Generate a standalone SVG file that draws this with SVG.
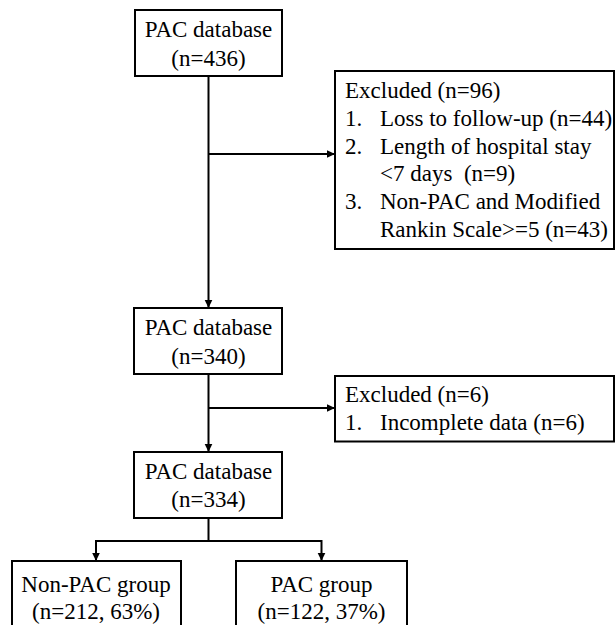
<svg xmlns="http://www.w3.org/2000/svg" width="615" height="625" viewBox="0 0 615 625">
<style>
.box{fill:#ffffff;stroke:#000000;stroke-width:2}
.ln{fill:none;stroke:#000000;stroke-width:2}
.t{font-family:'Liberation Serif','Tinos',serif;font-size:23px;fill:#000000}
.c{text-anchor:middle}
</style>
<defs>
<marker id="ah" markerUnits="userSpaceOnUse" markerWidth="10" markerHeight="10" viewBox="0 0 10 10" refX="9" refY="5" orient="auto">
<path d="M1,1.2 L9,5 L1,8.8 Z" fill="#000000"/>
</marker>
</defs>
<rect width="615" height="625" fill="#ffffff"/>
<g id="connectors">
<line class="ln" x1="208.5" y1="76" x2="208.5" y2="308" marker-end="url(#ah)"/>
<line class="ln" x1="208.5" y1="154" x2="335" y2="154" marker-end="url(#ah)"/>
<line class="ln" x1="208.5" y1="374" x2="208.5" y2="452" marker-end="url(#ah)"/>
<line class="ln" x1="208.5" y1="408" x2="335" y2="408" marker-end="url(#ah)"/>
<line class="ln" x1="208.5" y1="518" x2="208.5" y2="541"/>
<polyline class="ln" points="96,541 321.5,541"/>
<line class="ln" x1="96" y1="540" x2="96" y2="561" marker-end="url(#ah)"/>
<line class="ln" x1="321.5" y1="540" x2="321.5" y2="561" marker-end="url(#ah)"/>
</g>
<g id="n1" class="t" font-family="Liberation Serif, serif">
<rect class="box" x="135" y="10" width="147" height="66"/>
<text class="c" x="208.5" y="37">PAC database</text>
<text class="c" x="208.5" y="66">(n=436)</text>
</g>
<g id="ex1" class="t" font-family="Liberation Serif, serif">
<rect class="box" x="335" y="71" width="279" height="178"/>
<text x="345" y="97.5">Excluded (n=96)</text>
<text x="345" y="125.5">1.</text><text x="380" y="125.5">Loss to follow-up (n=44)</text>
<text x="345" y="153.5">2.</text><text x="380" y="153.5">Length of hospital stay</text>
<text x="380" y="181" xml:space="preserve">&lt;7 days  (n=9)</text>
<text x="345" y="208.5">3.</text><text x="380" y="208.5">Non-PAC and Modified</text>
<text x="380" y="236.5">Rankin Scale&gt;=5 (n=43)</text>
</g>
<g id="n2" class="t" font-family="Liberation Serif, serif">
<rect class="box" x="134" y="308" width="148" height="66"/>
<text class="c" x="208.5" y="335">PAC database</text>
<text class="c" x="208.5" y="363.5">(n=340)</text>
</g>
<g id="ex2" class="t" font-family="Liberation Serif, serif">
<rect class="box" x="335" y="376" width="279" height="65.5"/>
<text x="345" y="401.5">Excluded (n=6)</text>
<text x="345" y="430">1.</text><text x="380" y="430">Incomplete data (n=6)</text>
</g>
<g id="n3" class="t" font-family="Liberation Serif, serif">
<rect class="box" x="134" y="452" width="148" height="66"/>
<text class="c" x="208.5" y="478.5">PAC database</text>
<text class="c" x="208.5" y="506.5">(n=334)</text>
</g>
<g id="n4" class="t" font-family="Liberation Serif, serif">
<rect class="box" x="12" y="561" width="169" height="80"/>
<text class="c" x="96" y="591.5">Non-PAC group</text>
<text class="c" x="96" y="618.5">(n=212, 63%)</text>
</g>
<g id="n5" class="t" font-family="Liberation Serif, serif">
<rect class="box" x="236" y="561" width="171" height="80"/>
<text class="c" x="321.5" y="591.5">PAC group</text>
<text class="c" x="321.5" y="618.5">(n=122, 37%)</text>
</g>
</svg>
